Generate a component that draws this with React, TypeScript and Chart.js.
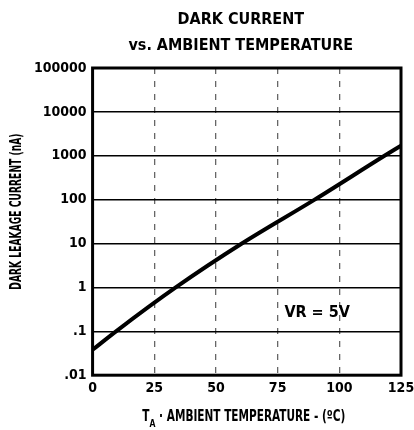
import { useEffect, useRef } from 'react';
import { Chart, registerables } from 'chart.js';

Chart.register(...registerables);

const titleLines = ['DARK CURRENT', 'vs. AMBIENT TEMPERATURE'];
const yAxisTitle = 'DARK LEAKAGE CURRENT (nA)';
const xTitleMain = 'T';
const xTitleSub = 'A';
const xTitleRest = ' · AMBIENT TEMPERATURE - (ºC)';

const temperatures = [0, 9.5, 33.7, 60.5, 90, 118.3, 125];
const darkCurrent = [0.038, 0.1, 1, 10, 100, 1000, 1700];

const xTicks = [0, 25, 50, 75, 100, 125];
const yTicks = [0.01, 0.1, 1, 10, 100, 1000, 10000, 100000];
const yTickLabels = ['.01', '.1', '1', '10', '100', '1000', '10000', '100000'];

const noteText = 'VR = 5V';
const noteX = 91;
const noteY = 0.27;

const FONT = "'DejaVu Sans Condensed', 'Liberation Sans Narrow', Arial, sans-serif";

function drawSquashed(ctx: any, text: string, font: string, sx: number) {
  ctx.font = font;
  ctx.save();
  ctx.scale(sx, 1);
  ctx.fillText(text, 0, 0);
  ctx.restore();
}

const decor = {
  id: 'decor',
  afterDraw(chart: any) {
    const { ctx, chartArea: a, scales } = chart;
    ctx.save();
    ctx.strokeStyle = '#000';
    ctx.lineWidth = 3;
    ctx.strokeRect(a.left, a.top, a.right - a.left, a.bottom - a.top);

    ctx.fillStyle = '#000';
    ctx.textAlign = 'center';
    ctx.textBaseline = 'middle';
    ctx.font = `bold 16px ${FONT}`;
    const cx = (a.left + a.right) / 2 - 6;
    ctx.fillText(titleLines[0], cx, 20);
    ctx.fillText(titleLines[1], cx, 46);

    ctx.font = `bold 16px ${FONT}`;
    ctx.fillText(noteText, scales.x.getPixelForValue(noteX), scales.y.getPixelForValue(noteY));

    // y axis title (rotated, condensed)
    ctx.save();
    ctx.translate(17, (a.top + a.bottom) / 2 - 10);
    ctx.rotate(-Math.PI / 2);
    drawSquashed(ctx, yAxisTitle, `bold 15px ${FONT}`, 0.68);
    ctx.restore();

    // x axis title with subscript (condensed)
    const sx = 0.78;
    const mainFont = `bold 15px ${FONT}`;
    const subFont = `bold 11px ${FONT}`;
    ctx.font = mainFont;
    const wT = ctx.measureText(xTitleMain).width * sx;
    const wR = ctx.measureText(xTitleRest).width * sx;
    ctx.font = subFont;
    const wA = ctx.measureText(xTitleSub).width * sx;
    const total = wT + wA + wR;
    let x = (a.left + a.right) / 2 - 3 - total / 2;
    const y = 417;
    ctx.textAlign = 'left';
    ctx.save();
    ctx.translate(x, y);
    drawSquashed(ctx, xTitleMain, mainFont, sx);
    ctx.restore();
    x += wT;
    ctx.save();
    ctx.translate(x, y + 7);
    drawSquashed(ctx, xTitleSub, subFont, sx);
    ctx.restore();
    x += wA;
    ctx.save();
    ctx.translate(x, y);
    drawSquashed(ctx, xTitleRest, mainFont, sx);
    ctx.restore();
    ctx.restore();
  },
};

export default function App() {
  const ref = useRef<HTMLCanvasElement>(null);
  useEffect(() => {
    const canvas = ref.current;
    if (!canvas) return;
    const chart = new Chart(canvas, {
      type: 'line',
      data: {
        datasets: [
          {
            data: temperatures.map((t, i) => ({ x: t, y: darkCurrent[i] })),
            borderColor: '#000',
            borderWidth: 4,
            pointRadius: 0,
            cubicInterpolationMode: 'monotone',
            fill: false,
          },
        ],
      },
      options: {
        animation: false,
        responsive: false,
        maintainAspectRatio: false,
        layout: { padding: { top: 68, left: 28, right: 13, bottom: 28 } },
        plugins: {
          legend: { display: false },
          title: { display: false },
          tooltip: { enabled: false },
        },
        scales: {
          x: {
            type: 'linear',
            min: 0,
            max: 125,
            afterBuildTicks: (scale: any) => {
              scale.ticks = xTicks.map((v) => ({ value: v }));
            },
            afterFit: (scale: any) => {
              scale.paddingLeft = 0;
              scale.paddingRight = 0;
            },
            ticks: {
              color: '#000',
              font: { family: FONT, size: 14, weight: 'bold' },
              padding: 5,
              maxRotation: 0,
            },
            grid: {
              drawTicks: false,
              color: (c: any) =>
                c.tick && (c.tick.value === 0 || c.tick.value === 125) ? 'rgba(0,0,0,0)' : '#666',
              lineWidth: 1.3,
            },
            border: { display: false, dash: [6, 7] },
          },
          y: {
            type: 'logarithmic',
            min: 0.01,
            max: 100000,
            afterBuildTicks: (scale: any) => {
              scale.ticks = yTicks.map((v) => ({ value: v }));
            },
            afterFit: (scale: any) => {
              scale.paddingTop = 0;
              scale.paddingBottom = 0;
            },
            ticks: {
              color: '#000',
              font: { family: FONT, size: 14, weight: 'bold' },
              padding: 6,
              callback: (v: any) => {
                const i = yTicks.findIndex((t) => Math.abs(t - v) / t < 1e-6);
                return i >= 0 ? yTickLabels[i] : '';
              },
            },
            grid: { drawTicks: false, color: '#000', lineWidth: 1.6 },
            border: { display: false },
          },
        },
      },
      plugins: [decor],
    });
    return () => chart.destroy();
  }, []);
  return (
    <div style={{ position: 'absolute', left: 0, top: 0, width: 414, height: 430 }}>
      <canvas ref={ref} width={414} height={430} style={{ display: 'block' }} />
    </div>
  );
}
